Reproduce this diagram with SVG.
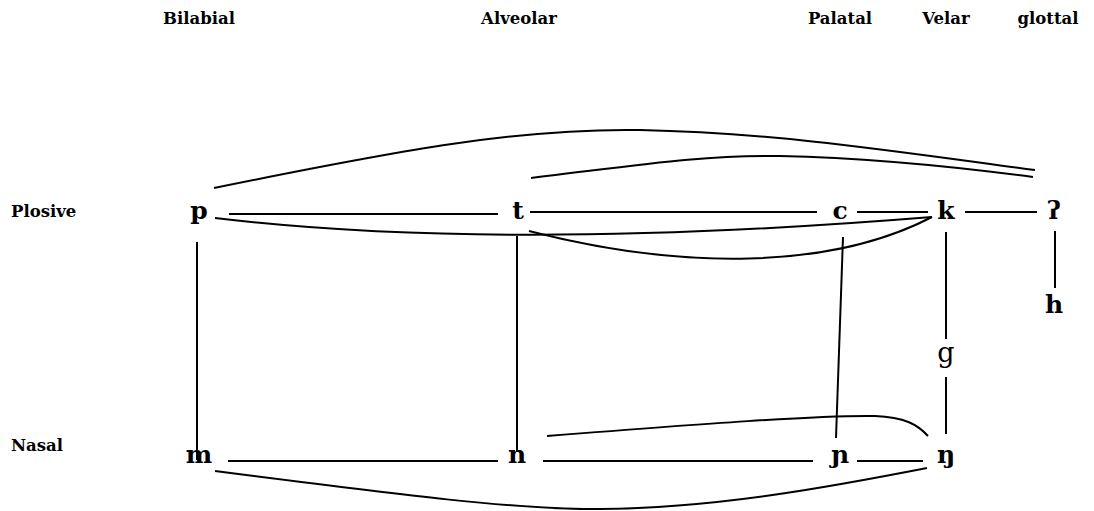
<svg xmlns="http://www.w3.org/2000/svg" width="1094" height="511" viewBox="0 0 1094 511">
<style>
.lbl{font-family:"DejaVu Serif","Liberation Serif",serif;font-weight:bold;font-size:16.5px;fill:#000}
.nd{font-family:"DejaVu Serif","Liberation Serif",serif;font-weight:bold;font-size:25px;fill:#000;text-anchor:middle}
.hd{text-anchor:middle}
.e{fill:none;stroke:#000;stroke-width:2}
</style>
<rect width="1094" height="511" fill="#fff"/>
<g id="labels">
<text class="lbl hd" x="199" y="24">Bilabial</text>
<text class="lbl hd" x="519" y="24">Alveolar</text>
<text class="lbl hd" x="840" y="24">Palatal</text>
<text class="lbl hd" x="946" y="24">Velar</text>
<text class="lbl hd" x="1048" y="24">glottal</text>
<text class="lbl" x="11" y="217">Plosive</text>
<text class="lbl" x="11" y="451">Nasal</text>
</g>
<g id="connectors">
<path class="e" d="M229,214 L498,214"/>
<path class="e" d="M530,212 L817,212"/>
<path class="e" d="M857,212 L928,212"/>
<path class="e" d="M965,212 L1037,212"/>
<path class="e" d="M1055,231 L1055,288"/>
<path class="e" d="M946,232 L946,339"/>
<path class="e" d="M946,377 L946,434"/>
<path class="e" d="M843,237 L836,438"/>
<path class="e" d="M197,242 L197,460"/>
<path class="e" d="M517,236 L517,452"/>
<path class="e" d="M228,461 L498,461"/>
<path class="e" d="M543,461 L813,461"/>
<path class="e" d="M857,461 L923,461"/>
<path class="e" d="M215,218 Q500,252 932,217"/>
<path class="e" d="M529,231 C680,270 830,270 932,217"/>
<path class="e" d="M215,471 C400,495 520,510 600,509 C720,508 840,485 927,468"/>
<path class="e" d="M547,436 C700,424 820,415 875,416 C905,417 918,425 928,436"/>
<path class="e" d="M214,188 C400,150 520,128 640,130 C780,133 900,152 1035,170"/>
<path class="e" d="M531,178 C640,165 700,155 780,156 C870,158 950,166 1033,177"/>
</g>
<g id="node-p"><text class="nd" x="199" y="219">p</text></g>
<g id="node-t"><text class="nd" x="518" y="219">t</text></g>
<g id="node-c"><text class="nd" x="840" y="219">c</text></g>
<g id="node-k"><text class="nd" x="946" y="219">k</text></g>
<g id="node-glottal-stop"><text class="nd" x="1054" y="219">ʔ</text></g>
<g id="node-h"><text class="nd" x="1054" y="313">h</text></g>
<g id="node-g"><text class="nd" x="946" y="362" style="font-weight:normal;font-size:27px">g</text></g>
<g id="node-m"><text class="nd" x="199" y="463">m</text></g>
<g id="node-n"><text class="nd" x="517" y="463">n</text></g>
<g id="node-palatal-nasal"><text class="nd" x="840" y="463">ɲ</text></g>
<g id="node-velar-nasal"><text class="nd" x="946" y="463">ŋ</text></g>
</svg>
